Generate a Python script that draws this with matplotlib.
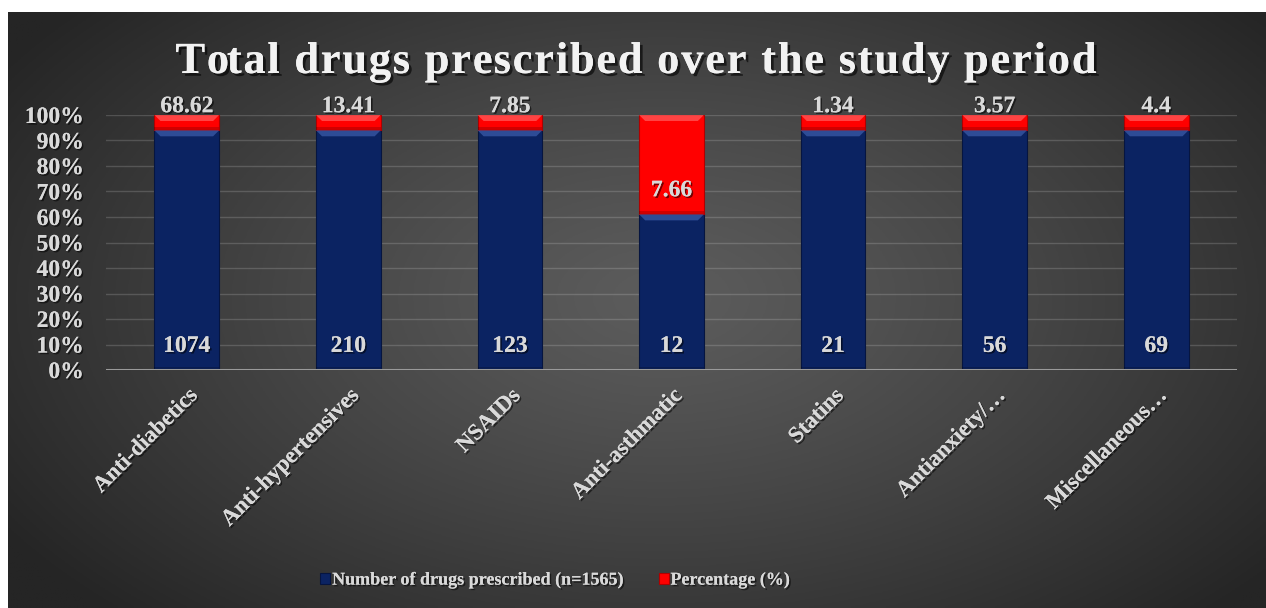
import numpy as np
import matplotlib
matplotlib.use("Agg")
import matplotlib.pyplot as plt
from matplotlib.patches import Polygon, Rectangle
import matplotlib.patheffects as pe

# --- data ---
categories = ["Anti-diabetics", "Anti-hypertensives", "NSAIDs", "Anti-asthmatic",
              "Statins", "Antianxiety/\u2026", "Miscellaneous\u2026"]
drug_counts = [1074, 210, 123, 12, 21, 56, 69]
percentages = [68.62, 13.41, 7.85, 7.66, 1.34, 3.57, 4.4]
series_names = ["Number of drugs prescribed (n=1565)", "Percentage (%)"]
title_text = "Total drugs prescribed over the study period"
ytick_vals = np.arange(0, 101, 10)

SERIF = "Liberation Serif"
TEXT_COL = "#d9d9d9"
BLUE = "#0b2362"
BLUE_LIGHT = "#3a5aa8"
RED = "#ff0000"
RED_LIGHT = "#ff5a5a"

W, H = 1266, 608
fig = plt.figure(figsize=(W / 100, H / 100), dpi=100)
fig.patch.set_facecolor("white")

# radial gradient backdrop panel
bg = fig.add_axes([8 / W, 0, 1 - 8 / W, 1 - 12 / H])
bg.set_axis_off()
gx, gy = np.meshgrid(np.linspace(0, 1, 400), np.linspace(0, 1, 200))
d = np.sqrt(((gx - 0.52) / 0.62) ** 2 + ((gy - 0.52) / 0.75) ** 2)
d = np.clip(d, 0, 1) ** 1.2
c0 = np.array([0x5c, 0x5c, 0x5c]) / 255
c1 = np.array([0x25, 0x25, 0x25]) / 255
img = c0[None, None, :] * (1 - d[..., None]) + c1[None, None, :] * d[..., None]
bg.imshow(img, extent=[0, 1, 0, 1], aspect="auto", origin="lower")
bg.set_xlim(0, 1)
bg.set_ylim(0, 1)

ax = fig.add_axes([106 / W, 238 / H, (1237 - 106) / W, 255 / H])
ax.set_facecolor("none")

counts = np.array(drug_counts, dtype=float)
pcts = np.array(percentages, dtype=float)
totals = counts + pcts
blue_share = counts / totals * 100
red_share = pcts / totals * 100
x = np.arange(len(categories))
bw = 0.4

ax.set_xlim(-0.5, len(categories) - 0.5)
ax.set_ylim(0, 100)

# gridlines
for v in ytick_vals[1:]:
    ax.axhline(v, color="white", alpha=0.16, lw=1.0, zorder=0)
ax.axhline(0, color="#9a9a9a", lw=2.2, zorder=4)

bars_blue = ax.bar(x, blue_share, bw, color=BLUE, zorder=2, label=series_names[0],
                   edgecolor="#061540", linewidth=0.8)
bars_red = ax.bar(x, red_share, bw, bottom=blue_share, color=RED, zorder=2,
                  label=series_names[1], edgecolor="#b00000", linewidth=0.8)

# bevel highlight along the top of each segment
fig.canvas.draw()
renderer = fig.canvas.get_renderer()
px_per_unit_y = ax.transData.transform((0, 1))[1] - ax.transData.transform((0, 0))[1]
px_per_unit_x = ax.transData.transform((1, 0))[0] - ax.transData.transform((0, 0))[0]
bev_y = 6 / px_per_unit_y
bev_x = 6 / px_per_unit_x
for bars, light in ((bars_blue, BLUE_LIGHT), (bars_red, RED_LIGHT)):
    for b in bars:
        x0, y0 = b.get_x(), b.get_y()
        w, h = b.get_width(), b.get_height()
        top = y0 + h
        poly = Polygon([(x0, top), (x0 + w, top), (x0 + w - bev_x, top - bev_y),
                        (x0 + bev_x, top - bev_y)], closed=True,
                       facecolor=light, edgecolor="none", alpha=0.75, zorder=3)
        ax.add_patch(poly)
        # darker base band
        ax.add_patch(Rectangle((x0, y0), w, bev_y * 0.5, facecolor="black",
                               alpha=0.18, edgecolor="none", zorder=3))

shadow = [pe.withSimplePatchShadow(offset=(1.2, -1.2), shadow_rgbFace="black", alpha=0.55),
          pe.Normal()]

# value labels at the inside base of each segment
for i in range(len(categories)):
    ax.annotate(f"{drug_counts[i]}", (x[i], 0), xytext=(0, 17), textcoords="offset points",
                ha="center", va="center", fontsize=17, fontweight="bold", family=SERIF,
                color=TEXT_COL, zorder=5, path_effects=shadow)
    ax.annotate(f"{percentages[i]}", (x[i], blue_share[i]), xytext=(0, 17),
                textcoords="offset points", ha="center", va="center", fontsize=17,
                fontweight="bold", family=SERIF, color=TEXT_COL, zorder=5,
                path_effects=shadow)

ax.set_yticks(ytick_vals)
ax.set_yticklabels([f"{v}%" for v in ytick_vals])
ax.set_xticks(x)
ax.set_xticklabels(categories, rotation=45, ha="right", va="top", rotation_mode="anchor")
ax.tick_params(axis="both", length=0, colors=TEXT_COL)
ax.tick_params(axis="y", pad=16)
ax.tick_params(axis="x", pad=11)
for lab in ax.get_yticklabels():
    lab.set_fontsize(17)
    lab.set_fontweight("bold")
    lab.set_family(SERIF)
    lab.set_path_effects(shadow)
for lab in ax.get_xticklabels():
    lab.set_fontsize(16.5)
    lab.set_fontweight("bold")
    lab.set_family(SERIF)
    lab.set_path_effects(shadow)
for s in ax.spines.values():
    s.set_visible(False)

# letter-spaced title, each glyph placed after the measured width of the preceding run
title_kw = dict(fontsize=32, fontweight="bold", family=SERIF, color="#f2f2f2",
                path_effects=[pe.withSimplePatchShadow(offset=(2, -2), shadow_rgbFace="black",
                                                       alpha=0.6), pe.Normal()])
tracking = 1.75  # extra pixels between glyphs
probe = fig.text(0, 0, "", **title_kw)

def run_width(s):
    if not s:
        return 0.0
    probe.set_text(s.replace(" ", "\u00a0"))
    return probe.get_window_extent(renderer).width

total_w = run_width(title_text) + tracking * (len(title_text) - 1)
center_x = 636
start_x = center_x - total_w / 2
base_y = H - 73
for i, ch in enumerate(title_text):
    if ch == " ":
        continue
    px = start_x + run_width(title_text[:i]) + tracking * i
    fig.text(px / W, base_y / H, ch, ha="left", va="baseline", **title_kw)
probe.remove()

leg = fig.legend(handles=[bars_blue, bars_red], labels=series_names, loc="center",
                 bbox_to_anchor=(555 / W, 1 - 580 / H), ncol=2, frameon=False,
                 handlelength=0.55, handleheight=0.55, handletextpad=0.1,
                 columnspacing=2.0, prop={"family": SERIF, "weight": "bold", "size": 13})
for t in leg.get_texts():
    t.set_color(TEXT_COL)
    t.set_path_effects(shadow)

fig.savefig("out.png", dpi=100, facecolor=fig.get_facecolor())
